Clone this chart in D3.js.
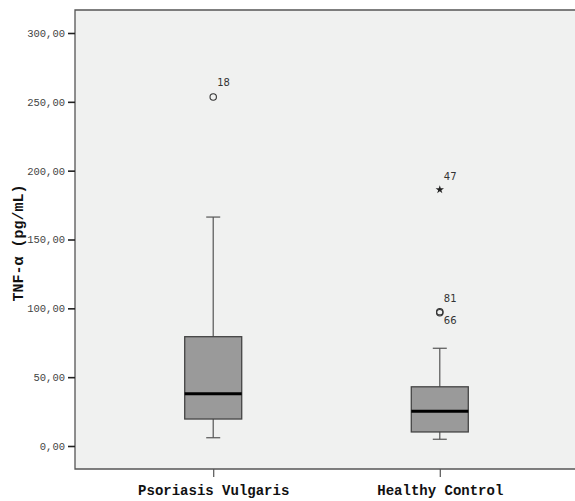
<!DOCTYPE html>
<html>
  <head>
    <meta charset="utf-8" />
    <script src="https://d3js.org/d3.v7.min.js"></script>
    <style>
        body { margin: 0; background: #fff; }
    </style>
  </head>
  <body>
    <svg id="chart" width="575" height="501"></svg>
    <script>
        // values
        var groups = ["Psoriasis Vulgaris", "Healthy Control"];
        var whiskerLow = [6.0, 4.9];
        var q1 = [19.6, 10.2];
        var median = [38.0, 25.2];
        var q3 = [79.4, 43.0];
        var whiskerHigh = [166.3, 71.0];

        var outlierGroup = [0, 1, 1, 1];
        var outlierValue = [253.5, 186.2, 97.6, 96.8];
        var outlierId = ["18", "47", "81", "66"];
        var outlierKind = ["circle", "star", "circle", "circle"];

        var yTicks = [0, 50, 100, 150, 200, 250, 300];

        var svg = d3.select("#chart");
        var plotL = 75, plotR = 575, plotT = 10, plotB = 469;

        // the frame runs off the right edge of the picture, so the band is a bit wider
        var x = d3.scalePoint().domain(groups).range([plotL, 578]).padding(0.61);
        var y = d3.scaleLinear().domain([0, 300]).range([446, 33]);

        // plot background + frame
        svg.append("rect")
            .attr("x", plotL).attr("y", plotT)
            .attr("width", plotR - plotL).attr("height", plotB - plotT)
            .attr("fill", "#f0f1f0");
        svg.append("path")
            .attr("d", "M" + plotR + "," + plotT + "H" + plotL + "V" + plotB + "H" + plotR)
            .attr("fill", "none").attr("stroke", "#555").attr("stroke-width", 1.3);

        var yAxis = svg.append("g")
            .attr("transform", "translate(" + plotL + ",0)")
            .call(d3.axisLeft(y).tickValues(yTicks).tickSize(7).tickPadding(3)
                .tickFormat(function(d) { return d3.format(".2f")(d).replace(".", ","); }));
        yAxis.select(".domain").remove();
        yAxis.selectAll("line").attr("stroke", "#222").attr("stroke-width", 1.6);
        yAxis.selectAll("text").attr("font-family", "Liberation Mono").attr("font-size", 10.5)
            .attr("fill", "#444");

        var xAxis = svg.append("g")
            .attr("transform", "translate(0," + plotB + ")")
            .call(d3.axisBottom(x).tickSize(8).tickPadding(8));
        xAxis.select(".domain").remove();
        xAxis.selectAll("line").attr("stroke", "#555").attr("stroke-width", 1.2);
        xAxis.selectAll("text").attr("font-family", "Liberation Mono").attr("font-size", 14)
            .attr("font-weight", "bold").attr("fill", "#111");

        svg.append("text")
            .attr("transform", "translate(23,243) rotate(-90)")
            .attr("text-anchor", "middle")
            .attr("font-family", "Liberation Mono")
            .attr("font-size", 15)
            .attr("font-weight", "bold")
            .attr("fill", "#111")
            .text("TNF-\u03b1 (pg/mL)");

        var boxW = 57, capW = 14;
        var box = svg.selectAll(".box").data(groups).enter().append("g").attr("class", "box");

        box.append("line")
            .attr("x1", function(d) { return x(d); }).attr("x2", function(d) { return x(d); })
            .attr("y1", function(d, i) { return y(whiskerHigh[i]); })
            .attr("y2", function(d, i) { return y(whiskerLow[i]); })
            .attr("stroke", "#555").attr("stroke-width", 1.2);
        [whiskerHigh, whiskerLow].forEach(function(arr) {
            box.append("line")
                .attr("x1", function(d) { return x(d) - capW / 2; })
                .attr("x2", function(d) { return x(d) + capW / 2; })
                .attr("y1", function(d, i) { return y(arr[i]); })
                .attr("y2", function(d, i) { return y(arr[i]); })
                .attr("stroke", "#555").attr("stroke-width", 1.2);
        });
        box.append("rect")
            .attr("x", function(d) { return x(d) - boxW / 2; })
            .attr("width", boxW)
            .attr("y", function(d, i) { return y(q3[i]); })
            .attr("height", function(d, i) { return y(q1[i]) - y(q3[i]); })
            .attr("fill", "#9a9a9a").attr("stroke", "#444").attr("stroke-width", 1.3);
        box.append("line")
            .attr("x1", function(d) { return x(d) - boxW / 2; })
            .attr("x2", function(d) { return x(d) + boxW / 2; })
            .attr("y1", function(d, i) { return y(median[i]); })
            .attr("y2", function(d, i) { return y(median[i]); })
            .attr("stroke", "#000").attr("stroke-width", 3);

        // outliers
        var idx = d3.range(outlierValue.length);
        var sym = d3.symbol().type(d3.symbolStar).size(22);
        idx.forEach(function(i) {
            var cx = x(groups[outlierGroup[i]]), cy = y(outlierValue[i]);
            if (outlierKind[i] === "star") {
                svg.append("path").attr("d", sym).attr("transform", "translate(" + cx + "," + cy + ")")
                    .attr("fill", "#222");
            } else {
                svg.append("circle").attr("cx", cx).attr("cy", cy).attr("r", 3.2)
                    .attr("fill", "none").attr("stroke", "#333").attr("stroke-width", 1.1);
            }
        });
        var labelDy = [-11, -10, -10, 11];
        svg.selectAll(".olabel").data(idx).enter().append("text")
            .attr("x", function(i) { return x(groups[outlierGroup[i]]) + 4; })
            .attr("y", function(i) { return y(outlierValue[i]) + labelDy[i]; })
            .attr("font-family", "DejaVu Sans")
            .attr("font-size", 10)
            .attr("fill", "#333")
            .text(function(i) { return outlierId[i]; });
    </script>
  </body>
</html>
